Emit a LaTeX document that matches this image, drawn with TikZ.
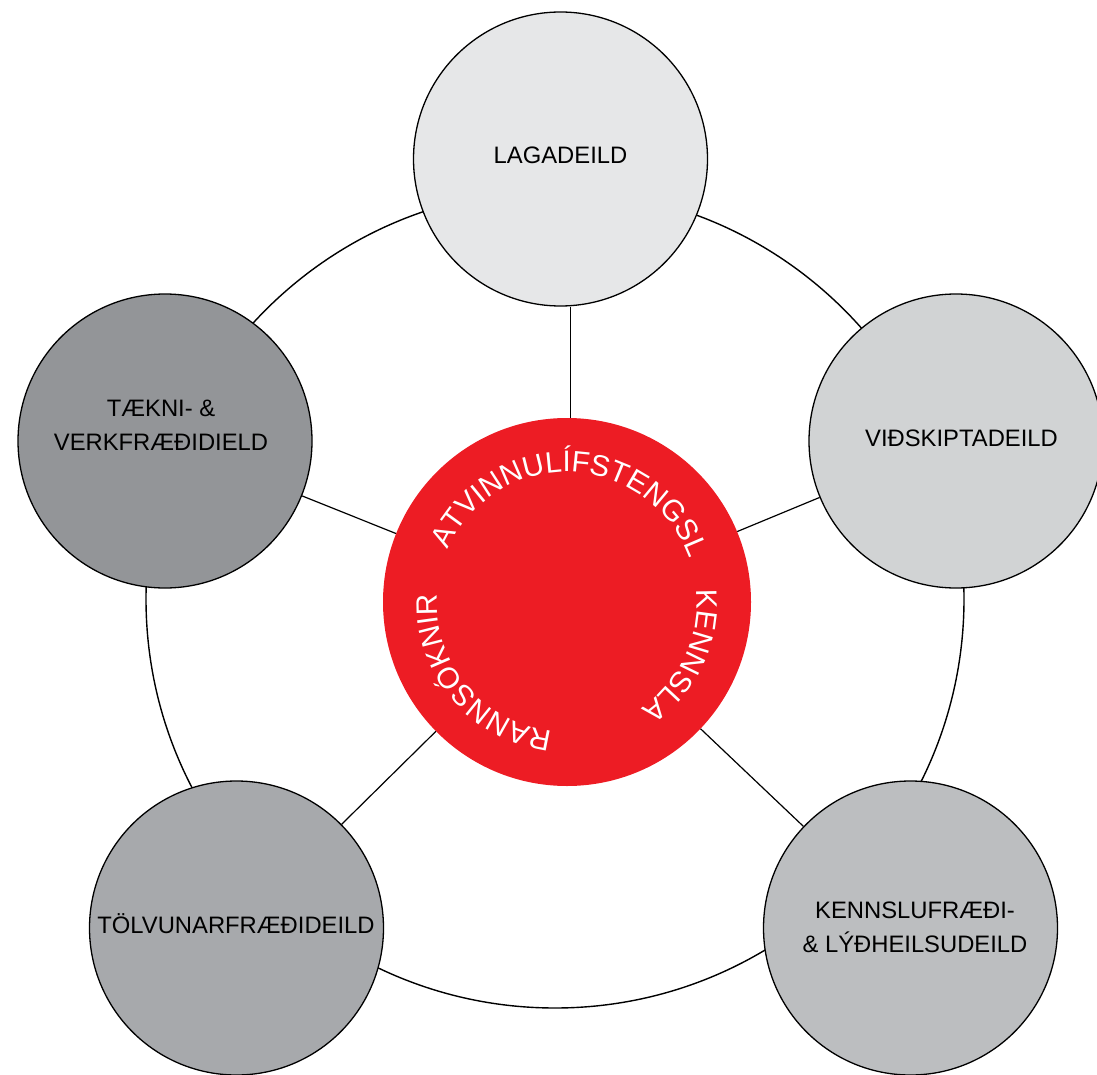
\documentclass[tikz,border=0pt]{standalone}
\usepackage{fontspec}
\setmainfont{Liberation Sans}
\usetikzlibrary{decorations.text}
\definecolor{lagc}{HTML}{E6E7E8}
\definecolor{vidc}{HTML}{D1D3D4}
\definecolor{taekc}{HTML}{939598}
\definecolor{tolc}{HTML}{A7A9AC}
\definecolor{kenc}{HTML}{BCBEC0}
\definecolor{redc}{HTML}{ED1C24}
\newcommand\curvefont{\fontsize{29.6}{30}\selectfont\color{white}}
\begin{document}
\begin{tikzpicture}[x=1pt,y=1pt,
  sat/.style={circle, draw=black, line width=1.3pt, minimum size=294pt, inner sep=0pt},
  lbl/.style={font=\fontsize{23.8}{34}\selectfont, align=center, anchor=base, inner sep=0pt},
  spoke/.style={draw=black, line width=1.2pt},
  ring/.style={draw=black, line width=1.4pt},
  curved/.style={decorate, decoration={text along path, text align=center, text={|\curvefont|#1}}}]
\useasboundingbox (0,0) rectangle (1097,-1075);
% outer ring
\draw[ring] (555,-599) circle[radius=409];
% satellites
\node[sat, fill=lagc]  (lag)  at (560.5,-159) {};
\node[sat, fill=vidc]  (vid)  at (956,-441) {};
\node[sat, fill=taekc] (taek) at (165,-441) {};
\node[sat, fill=tolc]  (tol)  at (236.5,-928) {};
\node[sat, fill=kenc]  (ken)  at (910.5,-928) {};
% centre
\node[circle, fill=redc, minimum size=368pt, inner sep=0pt] (red) at (567,-602) {};
% spokes
\draw[spoke] (red.89) -- (red.89 |- lag.south);
\draw[spoke] (red) -- (vid);
\draw[spoke] (red) -- (taek);
\draw[spoke] (red) -- (tol);
\draw[spoke] (red) -- (ken);
% labels (base anchor = baseline of the last line)
\node[lbl] (lagt)  at (560.5,-164) {LAGADEILD};
\node[lbl] (vidt)  at (961.5,-446.5) {VIÐSKIPTADEILD};
\node[lbl] (taekt) at (161,-450) {TÆKNI- \&\\VERKFRÆÐIDIELD};
\node[lbl] (tolt)  at (236,-933) {TÖLVUNARFRÆÐIDEILD};
\node[lbl] (kent)  at (915,-952) {KENNSLUFRÆÐI-\\\& LÝÐHEILSUDEILD};
% curved texts
\path[curved=ATVINNULÍFSTENGSL] (red.center) ++(158:130) arc[start angle=158, end angle=18, radius=130];
\path[curved=KENNSLA] (red.center) ++(10:130) arc[start angle=10, end angle=-60, radius=130];
\path[curved=RANNSÓKNIR] (red.center) ++(266:130) arc[start angle=266, end angle=174, radius=130];
\end{tikzpicture}
\end{document}
